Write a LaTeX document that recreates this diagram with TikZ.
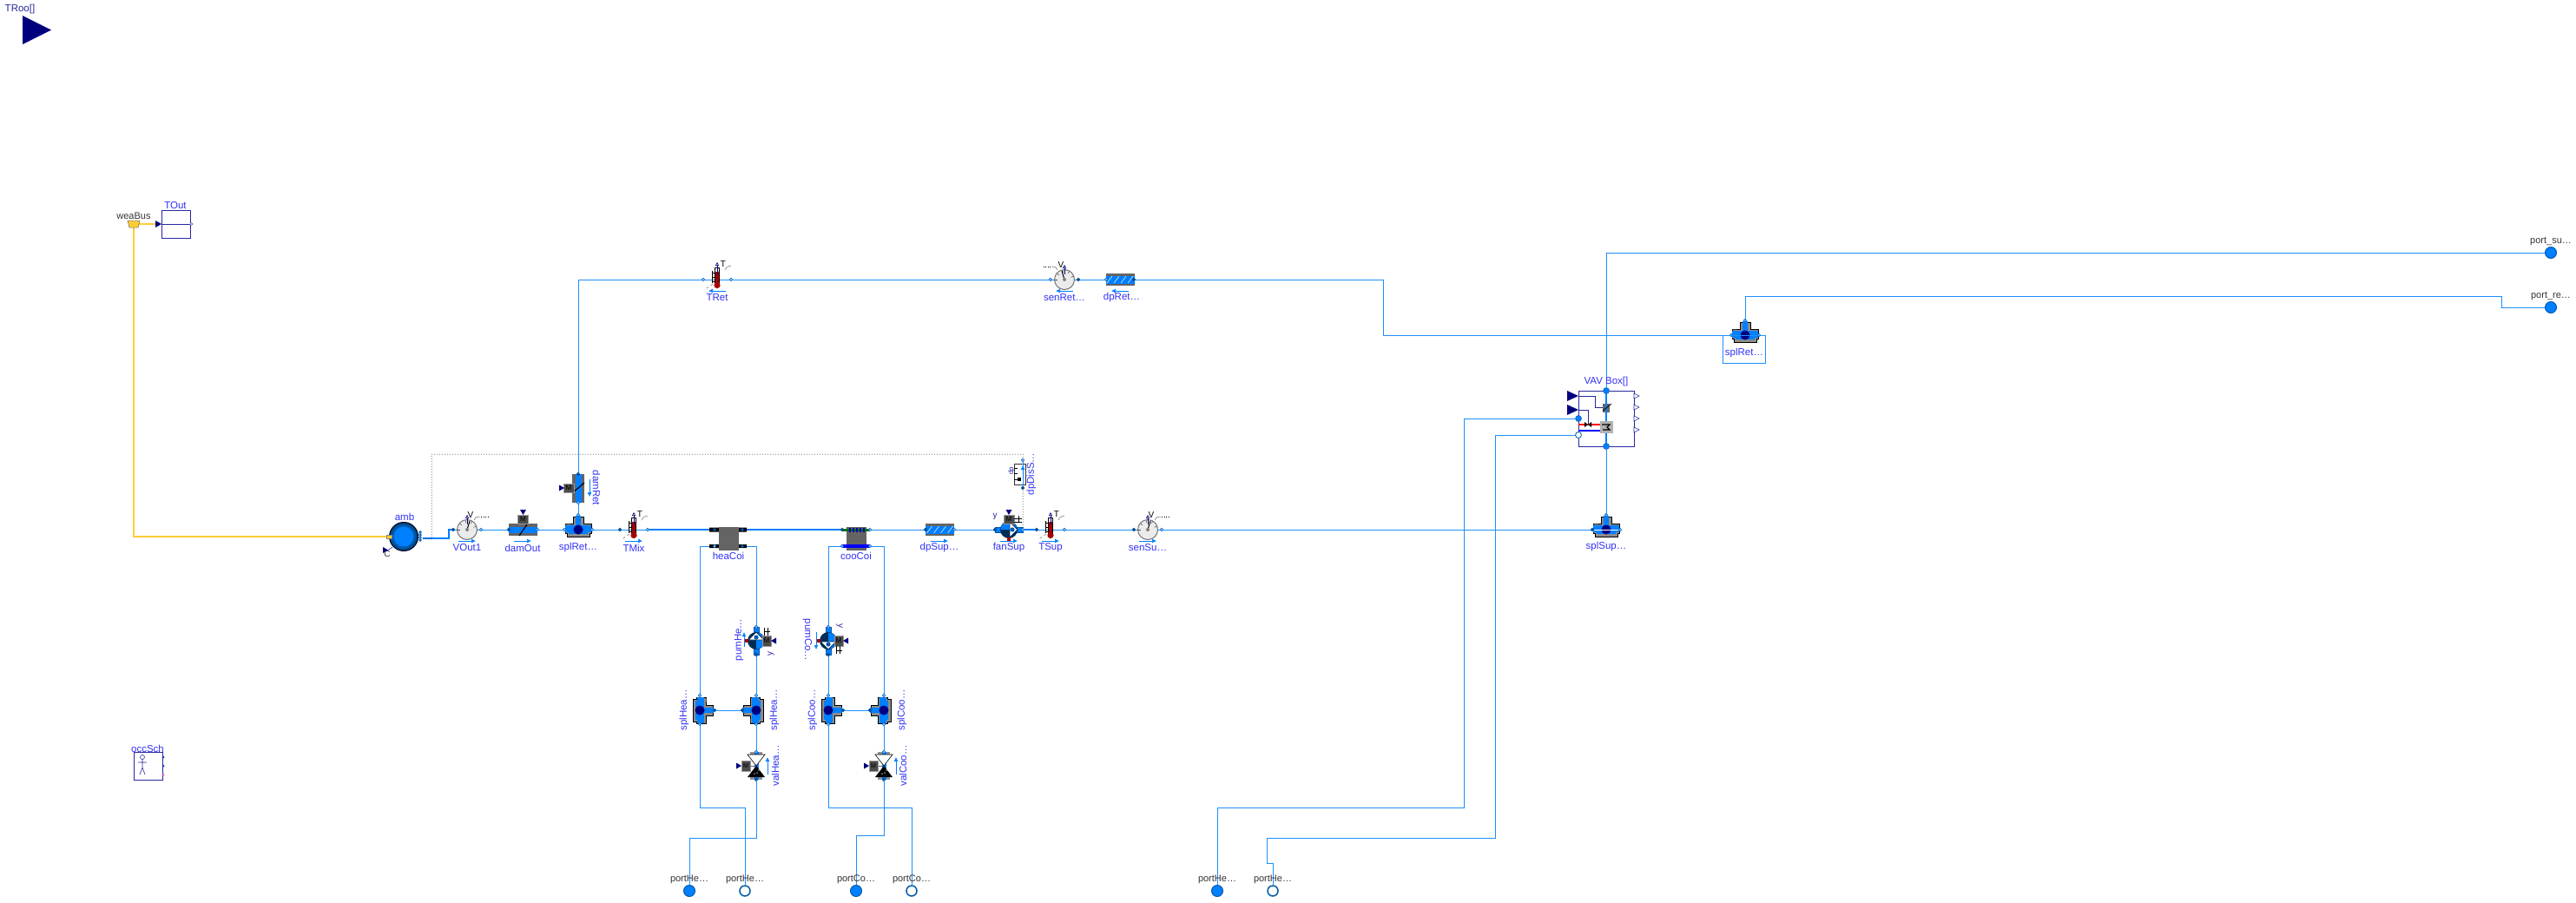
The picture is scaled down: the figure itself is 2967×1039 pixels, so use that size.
\documentclass[tikz,border=0pt]{standalone}
\usepackage{fontspec}
\setmainfont{Liberation Sans}
\usetikzlibrary{arrows.meta}
\definecolor{wire}{RGB}{30,144,255}
\definecolor{fluid}{RGB}{0,127,255}
\definecolor{dport}{RGB}{0,90,170}
\definecolor{lbl}{RGB}{50,50,245}
\definecolor{navy}{RGB}{0,0,127}
\definecolor{boxc}{RGB}{40,40,160}
\definecolor{metal}{RGB}{100,100,100}
\definecolor{bus}{RGB}{255,204,51}
\tikzset{
 fl/.style={draw=wire,line width=1pt},
 thick fl/.style={draw=fluid,line width=2.2pt},
 lab/.style={text=lbl,font=\fontsize{11.5}{12}\selectfont,inner sep=0pt},
 blab/.style={text=black!80,font=\fontsize{11}{12}\selectfont,inner sep=0pt},
 bigport/.style={circle,draw=dport,fill=fluid,line width=1pt,minimum size=13pt,inner sep=0pt},
 hollowport/.style={circle,draw=dport,fill=white,line width=1.5pt,minimum size=12pt,inner sep=0pt},
 ctrl/.style={draw=boxc,line width=1pt,fill=white},
 sig/.style={draw=boxc,line width=.8pt},
 dots/.style={draw=black,line width=.5pt,dash pattern=on 1pt off 2pt},
 flowar/.style={draw=fluid,line width=.7pt,-{Latex[length=5pt,width=5pt]}},
}
\newcommand{\thermo}[2]{%
 \begin{scope}[shift={(#1,#2)}]
 \draw[wire,line width=1pt] (-16,0)--(16,0);
 \draw[black,line width=.4pt] (-6,-8)--(-2,-8) (-6,-3)--(-2,-3) (-6,2)--(-2,2) (-6,-10)--(-6,4);
 \fill[white,draw=black,line width=.6pt] (-2.4,-14) rectangle (2.4,6);
 \fill[red!65!black] (-1.8,-9) rectangle (1.8,6);
 \fill[red!65!black] (0,6.5) circle (3.6);
 \draw[navy,line width=.6pt,-{Triangle[open,length=4pt,width=4pt]}] (0,-6)--(0,-20);
 \node[text=black,font=\fontsize{10}{10}\selectfont,inner sep=0pt] at (7,-18) {T};
 \draw[black!60,line width=.5pt] (9,-11) .. controls (11,-15) and (12,-15) .. (16,-16);
 \draw[black!50,line width=.6pt,dashed] (-5,5)--(-15,12);
 \end{scope}}
\newcommand{\flowsens}[3]{%
 \begin{scope}[shift={(#1,#2)}]
 \draw[wire,line width=1pt] (-16,0)--(16,0);
 \fill[black!8,draw=black!55,line width=1pt] (0,0) circle (11.5);
 \foreach \a in {20,60,100,140,180} \draw[black!70,line width=.5pt] (-\a:11)--(-\a:8);
 \draw[black,line width=1pt] (0,0)--(#3*3,-10);
 \fill[black!50] (0,0) circle (2);
 \draw[navy,line width=.6pt,-{Triangle[open,length=4pt,width=4pt]}] (0,-6)--(0,-17);
 \node[text=black,font=\fontsize{10}{10}\selectfont,inner sep=0pt] at (#3*4,-17) {V};
 \draw[black!60,line width=.5pt] (#3*8,-11) .. controls (#3*10,-15) and (#3*12,-15) .. (#3*15,-15);
 \draw[black,line width=.5pt,dash pattern=on 1pt off 1.5pt] (#3*16,-15)--(#3*24,-15);
 \end{scope}}
\newcommand{\motor}{%
 \fill[black!70,draw=black!40,line width=.3pt] (-6,-5) rectangle (6,5);
 \node[text=black,font=\fontsize{8}{8}\selectfont,inner sep=0pt] at (0,0) {M};}
\newcommand{\splitter}[1]{%
 \begin{scope}[rotate=#1]
 \fill[black!45,draw=black,line width=.6pt] (-15,-7)--(-13,-7)--(-6,-7)--(-6,-15)--(6,-15)--(6,-7)--(15,-7)--(15,4)--(13,4)--(13,8)--(-13,8)--(-13,4)--(-15,4)--cycle;
 \fill[fluid] (-15,-5) rectangle (15,3);
 \fill[fluid] (-3,-16) rectangle (3,0);
 \fill[fluid] (-11,-5) rectangle (11,5);
 \fill[navy] (0,0) circle (5.5);
 \end{scope}}
\newcommand{\pumpsym}[1]{%
 \begin{scope}[#1]
 \fill[fluid,draw=dport,line width=.4pt] (-16,-3.2) rectangle (16,3.2);
 \fill[dport!50!black] (0,0) circle (10);
 \fill[fluid] (-9.5,0) arc (180:360:9.5) -- cycle;
 \fill[white,draw=dport!50!black,line width=.8pt] (1,-9)--(10,0)--(1,9)--cycle;
 \fill[dport] (4,0) circle (2.6);
 \fill[red!70!black] (-2,9) rectangle (2,13);
 \begin{scope}[shift={(0,-12)}]\motor\end{scope}
 \draw[black,line width=.5pt] (6,-13)--(15,-13) (6,-9)--(15,-9) (11,-16)--(11,-9);
 \fill[navy] (-3.5,-23)--(3.5,-23)--(0,-17)--cycle;
 \end{scope}}
\newcommand{\valvesym}{%
 \fill[metal!70] (-7,-16) rectangle (7,-12);
 \fill[metal!70] (-7,12) rectangle (7,16);
 \fill[fluid] (-2.5,-16) rectangle (2.5,16);
 \draw[black,fill=white,line width=.6pt] (-10,-13)--(10,-13)--(0,0)--cycle;
 \fill[black] (-10,13)--(10,13)--(0,0)--cycle;
 \fill[black!45] (1,8) circle (1) (-2,9) circle (1) (3,5) circle (1);
 \draw[black!60,line width=.8pt] (0,0)--(-10,0);
 \begin{scope}[shift={(-12,0)}]\fill[black!70,draw=black!40,line width=.3pt] (-5,-6) rectangle (5,6);\node[text=black,font=\fontsize{7}{7}\selectfont,inner sep=0pt] at (0,0) {M};\end{scope}
 \fill[navy] (-23,-3.5)--(-23,3.5)--(-17,0)--cycle;}
\begin{document}
\begin{tikzpicture}[x=1pt,y=-1pt]
\useasboundingbox (0,0) rectangle (2967,1039);
\coordinate (bus) at (154,258);
\coordinate (ambL) at (449,618);
\coordinate (ambR) at (487,620);
\coordinate (vo1) at (522,610); \coordinate (vo2) at (554,610);
\coordinate (do1) at (586,610); \coordinate (do2) at (619,610);
\coordinate (sm1) at (650,610); \coordinate (sm2) at (682,610); \coordinate (sm3) at (666,593);
\coordinate (dr1) at (666,579); \coordinate (dr2) at (666,546);
\coordinate (tm1) at (714,610); \coordinate (tm2) at (746,610);
\coordinate (hc1) at (823,610); \coordinate (hc2) at (855,610); \coordinate (hc3) at (823,629); \coordinate (hc4) at (855,629);
\coordinate (cc1) at (970,610); \coordinate (cc2) at (1002,610); \coordinate (cc3) at (970,629); \coordinate (cc4) at (1002,629);
\coordinate (ds1) at (1066,610); \coordinate (ds2) at (1099,610);
\coordinate (fs1) at (1146,610); \coordinate (fs2) at (1178,610);
\coordinate (ts1) at (1194,610); \coordinate (ts2) at (1226,610);
\coordinate (ss1) at (1306,610); \coordinate (ss2) at (1338,610);
\coordinate (sp1) at (1834,610); \coordinate (sp2) at (1866,610); \coordinate (sp3) at (1850,593);
\coordinate (dd1) at (1178,530); \coordinate (dd2) at (1178,562);
\coordinate (tr1) at (810,322); \coordinate (tr2) at (842,322);
\coordinate (sr1) at (1210,322); \coordinate (sr2) at (1242,322);
\coordinate (dp1) at (1274,322); \coordinate (dp2) at (1306,322);
\coordinate (rt1) at (1994,386); \coordinate (rt2) at (2026,386); \coordinate (rt3) at (2010,369);
\coordinate (ph1) at (871,722); \coordinate (ph2) at (871,754);
\coordinate (sh1a) at (806,801); \coordinate (sh1b) at (806,834); \coordinate (sh1c) at (823,818);
\coordinate (sh2a) at (871,801); \coordinate (sh2b) at (871,834); \coordinate (sh2c) at (855,818);
\coordinate (vh1) at (871,866); \coordinate (vh2) at (871,898);
\coordinate (pc1) at (954,722); \coordinate (pc2) at (954,754);
\coordinate (sc1a) at (954,801); \coordinate (sc1b) at (954,834); \coordinate (sc1c) at (971,818);
\coordinate (sc2a) at (1018,801); \coordinate (sc2b) at (1018,834); \coordinate (sc2c) at (1002,818);
\coordinate (vc1) at (1018,866); \coordinate (vc2) at (1018,898);
% wires
\draw[bus,line width=2pt] (bus)--(180,258);
\draw[bus,line width=2pt] (bus)|-(ambL);
\draw[thick fl] (ambR)--(517,620)--(517,610)--(vo1);
\draw[fl] (vo2)--(do1) (do2)--(sm1) (sm2)--(tm1) (sm3)--(dr1);
\draw[thick fl] (tm2)--(hc1) (hc2)--(cc1) (fs2)--(ts1);
\draw[fl] (cc2)--(ds1) (ds2)--(fs1) (ts2)--(ss1) (ss2)--(sp1);
\draw[fl] (dr2)--(666,322)--(tr1) (tr2)--(sr1) (sr2)--(dp1);
\draw[fl] (dp2)--(1593,322)--(1593,386)--(rt1);
\draw[dots] (ambR)--(497,621)--(497,523)--(1178,523)--(dd1) (dd2)--(fs2);
\draw[fl] (hc3)--(806,629)--(sh1a);
\draw[fl] (hc4)--(871,629)--(ph1) (ph2)--(sh2a) (sh1c)--(sh2c) (sh2b)--(vh1);
\draw[fl] (cc3)--(954,629)--(pc1) (pc2)--(sc1a) (sc1c)--(sc2c) (sc2b)--(vc1);
\draw[fl] (cc4)--(1018,629)--(sc2a);
% coils
\fill[black] (817,607.5) rectangle (828,612.5) (851,607.5) rectangle (860,612.5);
\fill[black] (817,627) rectangle (828,631) (851,627) rectangle (860,631);
\fill[metal] (828,607) rectangle (851,634);
\fill[metal] (975,607) rectangle (998,634);
\fill[green!45!black] (970,609) rectangle (1002,612);
\fill[blue] (970,627) rectangle (1002,631);
\foreach \x in {978,982,986,990,994} \fill[blue!70!black] (\x,608) rectangle (\x+1.8,613);
% pipes
\foreach \cx/\cy in {1082.5/610,1290/322}{
 \fill[metal] (\cx-16.5,\cy-7) rectangle (\cx+16.5,\cy+7);
 \fill[fluid] (\cx-16.5,\cy-4.5) rectangle (\cx+16.5,\cy+4.5);
 \foreach \d in {-12,-4,4,12} \draw[white,line width=.5pt] (\cx+\d-3,\cy+4)--(\cx+\d+3,\cy-4);
}
\flowsens{538}{610}{1}\flowsens{1322}{610}{1}\flowsens{1226}{322}{-1}
\thermo{730}{610}\thermo{1210}{610}\thermo{826}{322}
% dampers
\fill[metal] (586,603) rectangle (619,617);
\fill[fluid] (586,606.5) rectangle (619,613.5);
\begin{scope}[shift={(602.5,598)}]\motor\fill[navy] (-3.5,-11)--(3.5,-11)--(0,-5)--cycle;\end{scope}
\draw[black,line width=1.2pt] (598,617)--(607,604);
\begin{scope}[shift={(666,562)}]
 \fill[metal] (-7,-16.5) rectangle (7,16.5);
 \fill[fluid] (-3.5,-16.5) rectangle (3.5,16.5);
 \draw[black,line width=1.2pt] (-7,6)--(7,-6);
 \begin{scope}[shift={(-11,0)}]\motor\end{scope}
 \fill[navy] (-22,-3.5)--(-22,3.5)--(-16,0)--cycle;
\end{scope}
% splitters
\begin{scope}[shift={(666,610)}]\splitter{0}\end{scope}
\begin{scope}[shift={(1850,610)}]\splitter{0}\end{scope}
\begin{scope}[shift={(2010,386)}]\splitter{0}\end{scope}
\draw[draw=white,line width=.6pt] (1836,610)--(1864,610);
\begin{scope}[shift={(806,818)}]\splitter{-90}\end{scope}
\begin{scope}[shift={(871,818)}]\splitter{90}\end{scope}
\begin{scope}[shift={(954,818)}]\splitter{-90}\end{scope}
\begin{scope}[shift={(1018,818)}]\splitter{90}\end{scope}
\begin{scope}[shift={(1162,610)}]\pumpsym{}\end{scope}
\begin{scope}[shift={(871,738)}]\pumpsym{rotate=-90,xscale=-1}\end{scope}
\begin{scope}[shift={(954,738)}]\pumpsym{rotate=-90}\end{scope}
\begin{scope}[shift={(871,882)}]\valvesym\end{scope}
\begin{scope}[shift={(1018,882)}]\valvesym\end{scope}
% amb
\fill[black!75!navy] (465,618) circle (17);
\fill[dport!80!black] (465,618) circle (15.8);
\fill[dport] (465,618) circle (14);
\fill[fluid] (465,618) circle (11.5);
\fill[bus,draw=black!50,line width=.4pt] (445,616) rectangle (451,620);
\foreach \y in {613,616,619,622} \draw[dport,line width=.5pt,fill=wire] (484,\y) circle (1.5);
\fill[navy] (441,630)--(441,637)--(447,633.5)--cycle;
\draw[navy,line width=.5pt] (447,633.5)--(452,630);
\node[text=black!80,font=\fontsize{10}{10}\selectfont,inner sep=0pt] (cl) at (446,638) {C};
% dpDis
\node[draw=black!80,fill=white,line width=.8pt,minimum width=13pt,minimum height=24pt,inner sep=0pt] (dpbox) at (1175,546) {};
\draw[fl] (dd1)--(dd2);
\draw[flowar] (1178,550)--(1178,536);
\fill[black] (1172,550) rectangle (1176,554);
\foreach \y in {539,545,552} \draw[black,line width=.4pt] (1168,\y)--(1172,\y);
\node[text=boxc,font=\fontsize{8}{8}\selectfont,rotate=90,inner sep=0pt] (dpn) at (1165,542) {dp};
% port dots
\foreach \n in {vo1,do1,tm1,hc1,hc4,cc1,ds1,fs1,ts1,ss1,sp1,dd2,sr2,dp2,dr2,ph2,sh1c,sh2c,pc2,sc1c,sc2c,vh2,vc2,hc2}
 \draw[dport!70!black,fill=dport,line width=.4pt] (\n) circle (1.8);
\foreach \n in {vo2,do2,sm1,sm2,sm3,dr1,tm2,hc3,cc2,cc3,cc4,ds2,fs2,ts2,ss2,sp2,sp3,dd1,tr1,tr2,sr1,dp1,rt1,rt2,rt3,ph1,sh1a,sh1b,sh2a,sh2b,vh1,pc1,sc1a,sc1b,sc2a,sc2b,vc1}
 \draw[dport,fill=wire!60,line width=.4pt] (\n) circle (1.8);
% bus & TOut
\draw[fill=bus,draw=black!60,line width=.5pt] (147,254)--(161,254)--(159,262)--(149,262)--cycle;
\node[ctrl,minimum width=33pt,minimum height=32pt,inner sep=0pt] (tout) at (202.5,258) {};
\draw[sig] (tout.west)--(tout.east);
\fill[navy] (179,254)--(179,262)--(186,258)--cycle;
\draw[boxc,line width=.5pt,fill=white] (219,256)--(222,258)--(219,260)--cycle;
% occSch
\node[ctrl,minimum width=33pt,minimum height=32pt,inner sep=0pt] (occ) at (170.5,882) {};
\draw[boxc,line width=.6pt] (164,872) circle (2.5) (164,874.5)--(164,884)--(161,892) (164,884)--(167,892) (159,878)--(169,878);
\foreach \y in {872,882} \fill[boxc] (188,\y) circle (1.5);
\fill[magenta!70] (188,892) circle (1.5);
% TRoo
\fill[navy] (26,18)--(59,34.5)--(26,51)--cycle;
% splRet box
\node[draw=wire,line width=1pt,minimum width=49pt,minimum height=32pt,inner sep=0pt] (srbox) at (2008.5,402) {};
% VAV
\node[ctrl,minimum width=64pt,minimum height=64pt,inner sep=0pt] (vav) at (1850,482) {};
\fill[navy] (1805,450)--(1818,456)--(1805,462)--cycle (1805,466)--(1818,472)--(1805,478)--cycle;
\draw[sig] (1818,456)--(1837,456)--(1837,469)--(1846,469);
\draw[sig] (1818,472)--(1829,472)--(1829,489);
\draw[red,line width=1.4pt] (1818,489)--(1843,489);
\draw[blue,line width=1.4pt] (1818,496)--(1843,496);
\fill[black] (1825,486)--(1825,492)--(1829,489)--cycle (1833,486)--(1833,492)--(1829,489)--cycle;
\draw[fluid,line width=2.2pt] (1850,450)--(1850,514);
\fill[metal] (1846,465) rectangle (1854,475);
\fill[fluid] (1849,465) rectangle (1851,475);
\draw[black,line width=.8pt] (1846,473)--(1856,465);
\fill[black!30] (1843,485) rectangle (1858,499);
\draw[black,line width=1.2pt] (1845,489)--(1854,489)--(1851,492)--(1854,495)--(1846,495);
\foreach \y in {456,469,482,495} \draw[boxc,line width=.6pt,fill=white] (1882,\y-3)--(1888,\y)--(1882,\y+3)--cycle;
\node[bigport,minimum size=7pt,line width=.5pt] (v1) at (1850,450) {};
\node[bigport,minimum size=7pt,line width=.5pt] (v2) at (1850,514) {};
\node[bigport,minimum size=7pt,line width=.5pt] (v3) at (1818,482) {};
\node[hollowport,minimum size=7pt,line width=.8pt] (v4) at (1818,501) {};
% outer ports
\node[bigport] (pH1) at (794,1026) {};
\node[hollowport] (pH2) at (858,1026) {};
\node[bigport] (pC1) at (986,1026) {};
\node[hollowport] (pC2) at (1050,1026) {};
\node[bigport] (pV1) at (1402,1026) {};
\node[hollowport] (pV2) at (1466,1026) {};
\node[bigport] (pS) at (2938,291) {};
\node[bigport] (pR) at (2938,354) {};
\draw[fl] (vh2)--(871,965)--(794,965)--(pH1);
\draw[fl] (sh1b)--(806,930)--(858,930)--(pH2);
\draw[fl] (vc2)--(1018,962)--(986,962)--(pC1);
\draw[fl] (sc1b)--(954,930)--(1050,930)--(pC2);
\draw[fl] (pV1)--(1402,930)--(1686,930)--(1686,482)--(v3);
\draw[fl] (pV2)--(1466,994)--(1459,994)--(1459,965)--(1722,965)--(1722,501)--(v4);
\draw[fl] (sp3)--(v2);
\draw[fl] (v1)--(1850,291)--(pS);
\draw[fl] (rt3)--(2010,341)--(2881,341)--(2881,354)--(pR);
% labels
\node[lab] (l1) at (538,631) {VOut1};
\node[lab,text=boxc] (l2) at (23,11) {TRoo[]};
\node[blab] (l3) at (154,249) {weaBus};
\node[lab] (l4) at (202,237) {TOut};
\node[lab] (l5) at (170,862) {occSch};
\node[lab] (l6) at (466,595) {amb};
\node[lab] (l7) at (602,631) {damOut};
\node[lab] (l8) at (666,631) {splRet…};
\node[lab] (l9) at (730,631) {TMix};
\node[lab] (l10) at (839,640) {heaCoi};
\node[lab] (l11) at (986,640) {cooCoi};
\node[lab] (l12) at (1082,631) {dpSup…};
\node[lab] (l13) at (1162,631) {fanSup};
\node[lab] (l14) at (1210,631) {TSup};
\node[lab] (l15) at (1322,631) {senSu…};
\node[lab] (l16) at (1850,630) {splSup…};
\node[lab] (l17) at (2009,407) {splRet…};
\node[lab] (l18) at (1850,440) {VAV Box[]};
\node[lab] (l19) at (826,343) {TRet};
\node[lab] (l20) at (1226,343) {senRet…};
\node[lab] (l21) at (1292,343) {dpRet…};
\node[lab,rotate=-90] (l22) at (687,562) {damRet};
\node[lab,rotate=90] (l23) at (1188,546) {dpDisS…};
\node[lab,rotate=90] (l24) at (851,737) {pumHe…};
\node[lab,rotate=-90] (l25) at (930,737) {pumCo…};
\node[lab,rotate=90] (l26) at (788,818) {splHea…};
\node[lab,rotate=90] (l27) at (892,818) {splHea…};
\node[lab,rotate=90] (l28) at (936,818) {splCoo…};
\node[lab,rotate=90] (l29) at (1039,818) {splCoo…};
\node[lab,rotate=90] (l30) at (893,882) {valHea…};
\node[lab,rotate=90] (l31) at (1040,882) {valCoo…};
\node[blab] (l32) at (794,1013) {portHe…};
\node[blab] (l33) at (858,1013) {portHe…};
\node[blab] (l34) at (986,1013) {portCo…};
\node[blab] (l35) at (1050,1013) {portCo…};
\node[blab] (l36) at (1402,1013) {portHe…};
\node[blab] (l37) at (1466,1013) {portHe…};
\node[blab] (l38) at (2938,278) {port\_su…};
\node[blab] (l39) at (2938,341) {port\_re…};
\node[text=boxc,font=\fontsize{10}{10}\selectfont,inner sep=0pt] (l40) at (1146,595) {y};
\node[text=boxc,font=\fontsize{10}{10}\selectfont,rotate=90,inner sep=0pt] (l41) at (888,753) {y};
\node[text=boxc,font=\fontsize{10}{10}\selectfont,rotate=-90,inner sep=0pt] (l42) at (967,721) {y};
\foreach \x in {538,602,730,1082,1162,1210,1322}{\draw[flowar] (\x-10,623)--(\x+10,623);}
\foreach \x in {836,1236,1300}{\draw[flowar] (\x,335)--(\x-20,335);}
\draw[flowar] (679,552)--(679,572);
\draw[flowar] (884,892)--(884,872);
\draw[flowar] (1032,892)--(1032,872);
\draw[flowar] (857,745)--(857,728);
\draw[flowar] (940,728)--(940,748);
\end{tikzpicture}
\end{document}
